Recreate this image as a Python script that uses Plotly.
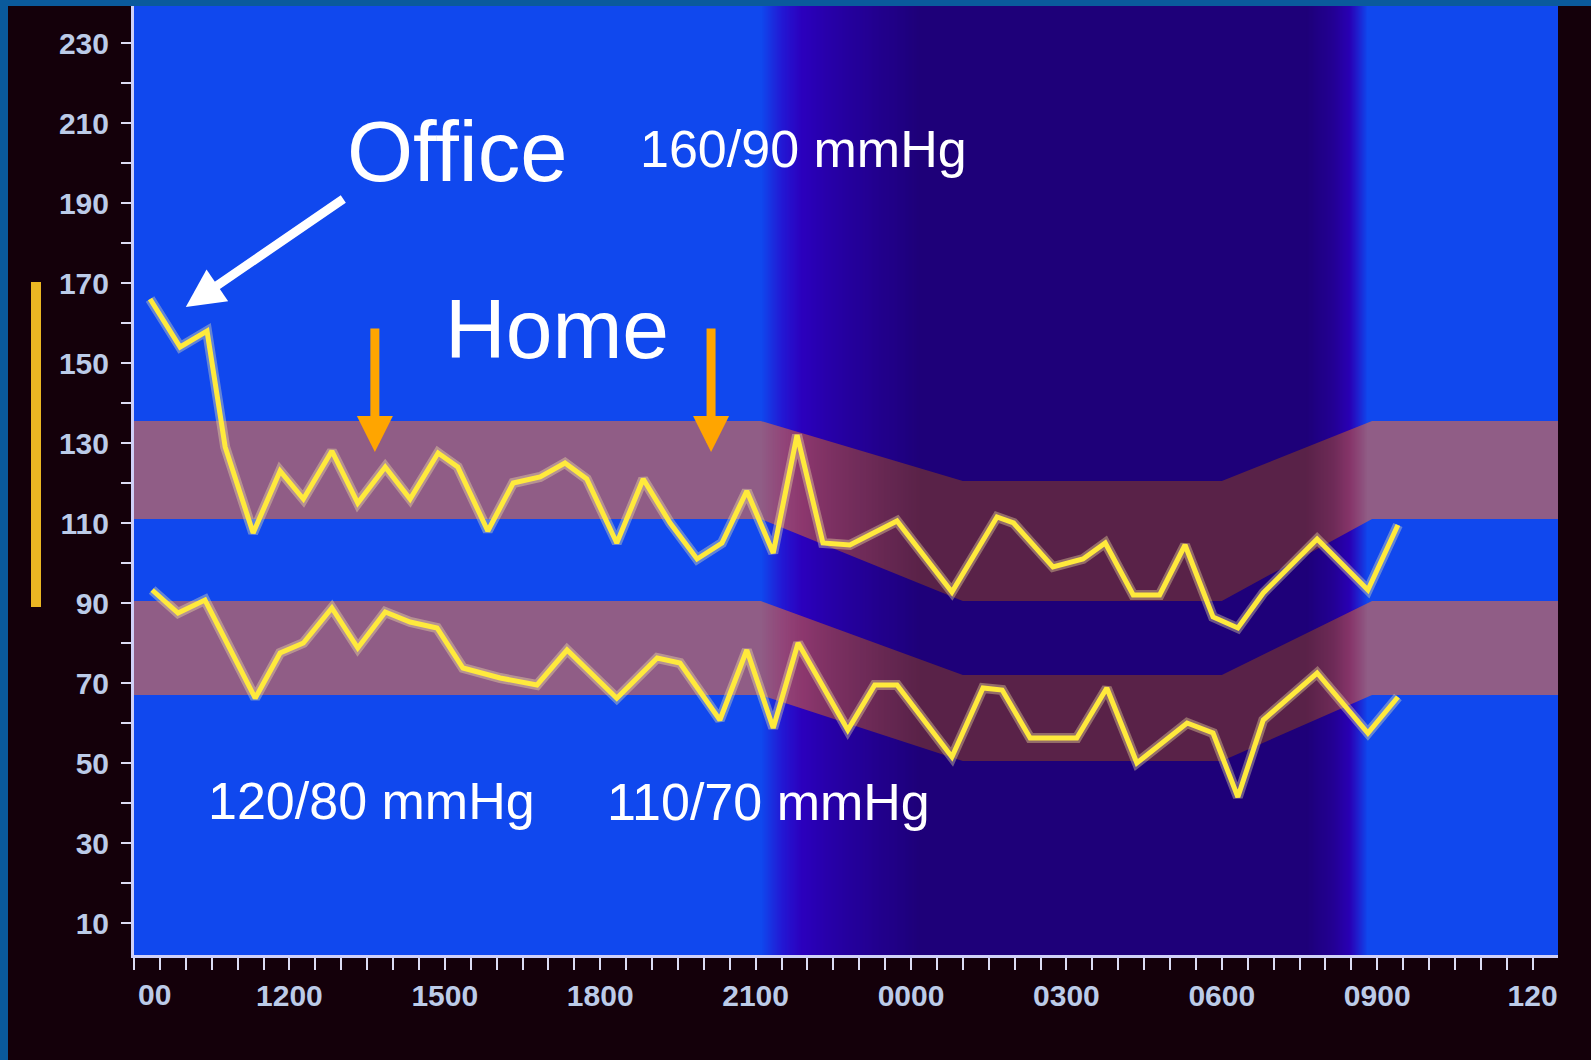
import plotly.graph_objects as go

# ---------------- data ----------------
# hours since midnight of day 1 (values > 24 are the next morning)
sys_hours = [9.31, 9.89, 10.41, 10.76, 11.30, 11.82, 12.27, 12.82, 13.32, 13.85,
             14.33, 14.87, 15.25, 15.83, 16.32, 16.84, 17.32, 17.74, 18.32, 18.83,
             19.35, 19.87, 20.35, 20.83, 21.34, 21.80, 22.30, 22.82, 23.73, 24.79,
             25.66, 25.98, 26.74, 27.32, 27.75, 28.29, 28.80, 29.29, 29.83, 30.31,
             30.80, 31.84, 32.82, 33.40]
sys_values = [166, 154, 158, 129, 107.5, 123, 116, 128, 115, 124,
              116, 127.5, 124, 108, 120, 121.5, 125, 121, 105, 121,
              110, 101, 105, 118, 102.5, 132, 105, 104.5, 110.5, 92.75,
              111.5, 110, 99, 101, 105, 92, 92, 104.5, 86.5, 83.75,
              92.5, 106, 93.25, 109.5]

dia_hours = [9.35, 9.85, 10.37, 11.34, 11.82, 12.27, 12.82, 13.32, 13.85, 14.33,
             14.85, 15.35, 16.07, 16.78, 17.36, 18.32, 19.10, 19.54, 20.31, 20.83,
             21.34, 21.82, 22.78, 23.30, 23.73, 24.79, 25.39, 25.76, 26.30, 27.20,
             27.78, 28.36, 29.33, 29.83, 30.31, 30.80, 31.84, 32.82, 33.40]
dia_values = [93.25, 87.5, 90.75, 66.2, 77.5, 80, 88.75, 78.75, 87.75, 85.25,
              83.75, 73.75, 71.25, 69.5, 78.25, 66.2, 76.25, 75, 60.75, 78.25,
              58.75, 80, 58.25, 69.5, 69.5, 51.5, 68.75, 68.25, 56.25, 56.25,
              68.75, 50, 60, 57.5, 41.5, 60.75, 72.5, 57.5, 66.5]

# normal-range bands (day / night)
band_hours = [9, 21.1, 25.0, 30.0, 32.9, 36.5]
sys_band_low = [111, 111, 90.5, 90.5, 111, 111]
sys_band_high = [135.5, 135.5, 120.5, 120.5, 135.5, 135.5]
dia_band_low = [67, 67, 50.5, 50.5, 67, 67]
dia_band_high = [90.5, 90.5, 72, 72, 90.5, 90.5]

# night shading profile (0 = day, 1 = full night)
shade_hours = [8, 21.1, 21.5, 21.9, 22.5, 23.3, 24.2, 31.6, 32.15, 32.45, 32.8, 37.5]
purple_level = [0, 0, 0.65, 1, 1, 1, 1, 1, 1, 1, 0, 0]
dark_level = [0, 0, 0.1, 0.25, 0.5, 0.75, 1, 1, 0.7, 0.35, 0, 0]

tick_hours = [12, 15, 18, 21, 24, 27, 30, 33, 36]
tick_labels = ["1200", "1500", "1800", "2100", "0000", "0300", "0600", "0900", "120"]
y_ticks = list(range(10, 231, 20))

X_RANGE = [9, 36.49]
Y_RANGE = [2, 239.25]

fig = go.Figure()

# background: day blue -> night indigo
fig.add_trace(go.Heatmap(
    x=shade_hours, y=[-100, 400], z=[purple_level, purple_level],
    zmin=0, zmax=1, zsmooth="best", showscale=False, hoverinfo="skip",
    colorscale=[[0, "rgb(16,72,238)"], [1, "rgb(48,0,212)"]],
    xaxis="x", yaxis="y"))

band_col = "rgba(238,108,58,0.58)"
fig.add_trace(go.Scatter(
    x=band_hours + band_hours[::-1], y=sys_band_high + sys_band_low[::-1],
    fill="toself", fillcolor=band_col, mode="lines", line=dict(width=0),
    hoverinfo="skip", showlegend=False, xaxis="x", yaxis="y"))
fig.add_trace(go.Scatter(
    x=band_hours + band_hours[::-1], y=dia_band_high + dia_band_low[::-1],
    fill="toself", fillcolor=band_col, mode="lines", line=dict(width=0),
    hoverinfo="skip", showlegend=False, xaxis="x", yaxis="y"))

# night darkening overlay (on the overlaid subplot, above the bands)
fig.add_trace(go.Heatmap(
    x=shade_hours, y=[-100, 400], z=[dark_level, dark_level],
    zmin=0, zmax=1, zsmooth="best", showscale=False, hoverinfo="skip",
    colorscale=[[0, "rgba(8,0,12,0)"], [1, "rgba(8,0,12,0.46)"]],
    xaxis="x", yaxis="y2"))

for hx, vy in [(sys_hours, sys_values), (dia_hours, dia_values)]:
    fig.add_trace(go.Scatter(
        x=hx, y=vy, mode="lines", line=dict(color="rgba(255,245,170,0.35)", width=10),
        hoverinfo="skip", showlegend=False, xaxis="x", yaxis="y2"))
    fig.add_trace(go.Scatter(
        x=hx, y=vy, mode="lines", line=dict(color="#ffea3c", width=5),
        showlegend=False, xaxis="x", yaxis="y2"))

tick_font = dict(family="Liberation Sans", size=30, color="#bccbe8", weight="bold")
axis_col = "#cfd0f8"

fig.update_layout(
    width=1591, height=1060,
    margin=dict(l=134, r=33, t=6, b=105),
    paper_bgcolor="#14000a",
    plot_bgcolor="#1048ee",
    showlegend=False,
    xaxis=dict(range=X_RANGE, showgrid=False, zeroline=False,
               showline=True, linecolor=axis_col, linewidth=3,
               tickmode="array", tickvals=tick_hours, ticktext=tick_labels,
               ticks="outside", ticklen=12, tickwidth=2, tickcolor="#dcdcf4",
               minor=dict(tickmode="linear", tick0=9, dtick=0.5, ticks="outside",
                          ticklen=12, tickwidth=2, tickcolor="#dcdcf4"),
               tickfont=tick_font),
    yaxis=dict(range=Y_RANGE, showgrid=False, zeroline=False,
               showline=True, linecolor=axis_col, linewidth=3,
               tickmode="array", tickvals=y_ticks,
               ticks="outside", ticklen=10, tickwidth=2, tickcolor="#dcdcf4",
               minor=dict(tickmode="linear", tick0=0, dtick=10, ticks="outside",
                          ticklen=10, tickwidth=2, tickcolor="#dcdcf4"),
               tickfont=tick_font, ticklabelstandoff=6),
    yaxis2=dict(range=Y_RANGE, overlaying="y", visible=False),
)

txt = dict(family="Liberation Sans", color="white")
annotations = [
    dict(x=15.24, y=203, text="Office", font=dict(size=85, **txt)),
    dict(x=17.17, y=158.5, text="Home", font=dict(size=84, **txt)),
    dict(x=21.92, y=203.5, text="160/90 mmHg", font=dict(size=52, **txt)),
    dict(x=13.59, y=40.5, text="120/80 mmHg", font=dict(size=52, **txt)),
    dict(x=21.24, y=40.2, text="110/70 mmHg", font=dict(size=52, **txt)),
]
for a in annotations:
    fig.add_annotation(xref="x", yref="y", showarrow=False,
                       xanchor="center", yanchor="middle", **a)

# white arrow pointing to the office readings
fig.add_annotation(x=10.0, y=164, xref="x", yref="y", ax=159, ay=-109,
                   text="", showarrow=True, arrowhead=2, arrowsize=0.85,
                   arrowwidth=9, arrowcolor="white", standoff=0)
# orange arrows marking home readings
for hx in [13.65, 20.14]:
    fig.add_annotation(x=hx, y=127.75, xref="x", yref="y", ax=0, ay=-125,
                       text="", showarrow=True, arrowhead=2, arrowsize=0.8,
                       arrowwidth=9, arrowcolor="#ffa500", standoff=0)

# first (cut) tick label
fig.add_annotation(x=9, y=-0.042, xref="x", yref="paper", text="00",
                   showarrow=False, xanchor="left", yanchor="middle", xshift=2,
                   font=tick_font)

# frame and the yellow bar on the left
W, L = 1424.0, 134.0
H, B = 949.0, 955.0
def px(p):
    return (p - L) / W
def py(p):
    return (B - p) / H
frame = "#0a5a9c"
fig.add_shape(type="rect", xref="paper", yref="paper", layer="above",
              x0=px(0), x1=px(8), y0=py(1060), y1=py(0),
              fillcolor=frame, line=dict(width=0))
fig.add_shape(type="rect", xref="paper", yref="paper", layer="above",
              x0=px(0), x1=px(1591), y0=py(6), y1=py(0),
              fillcolor=frame, line=dict(width=0))
fig.add_shape(type="rect", xref="paper", yref="paper", layer="above",
              x0=px(31), x1=px(41), y0=py(607), y1=py(282),
              fillcolor="#eab623", line=dict(width=0))

fig.write_html("out.html", config={"displayModeBar": False},
               post_script="document.body.style.margin='0';")
